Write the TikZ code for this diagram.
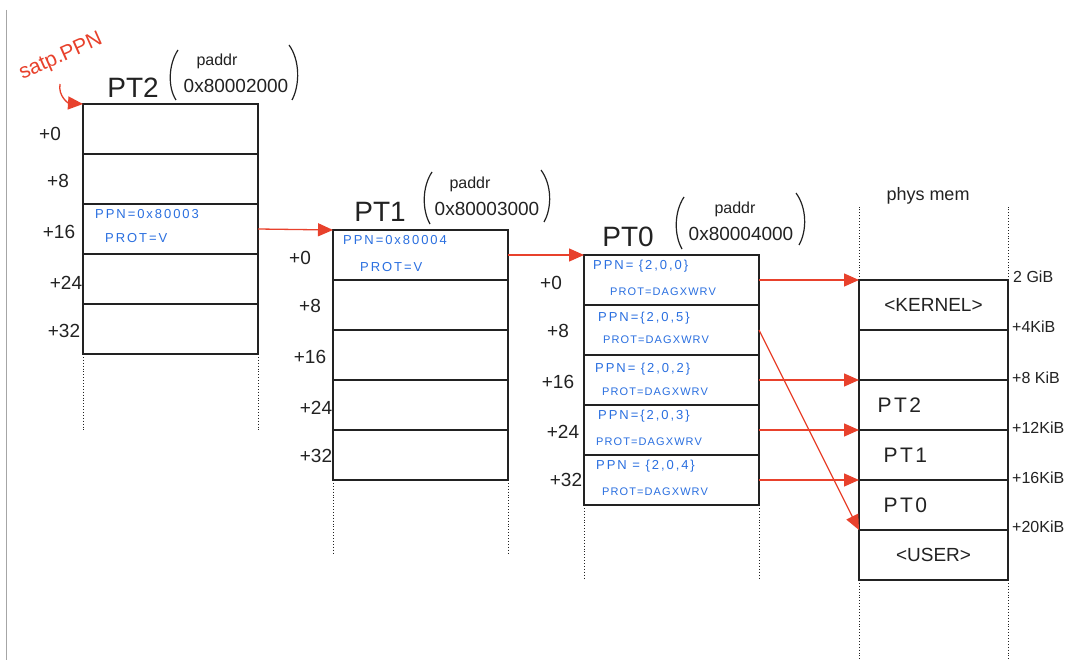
\documentclass[tikz,border=0pt]{standalone}
\usepackage{fontspec}
\setmainfont{Liberation Sans}
\usetikzlibrary{arrows.meta}
\definecolor{ptred}{HTML}{E8412C}
\definecolor{entryblue}{HTML}{2A6FE0}
\definecolor{ink}{HTML}{222222}
\newcommand{\fs}[1]{\fontsize{#1}{#1}\selectfont}

\begin{document}
\begin{tikzpicture}[x=1pt,y=-1pt,
  cell/.style={draw=ink, line width=1.3pt, minimum width=175pt, minimum height=50pt,
    inner sep=0pt, outer sep=0pt},
  memcell/.style={cell, minimum width=149pt, font=\fs{19}, text=ink},
  ptr/.style={draw=ptred, line width=1.3pt, -{Triangle[length=15pt,width=13pt]}},
  tail/.style={draw=ink, line width=0.9pt, dotted},
  off/.style={font=\fs{19}, text=ink},
  title/.style={font=\fs{28}, text=ink},
  paddr/.style={font=\fs{16}, text=ink},
  addr/.style={font=\fs{19}, text=ink},
  paren/.style={draw=ink, line width=1.2pt},
  entry/.style={text=entryblue, font=\fs{13}\addfontfeatures{LetterSpace=15}, anchor=west, inner sep=0pt},
  prot/.style={text=entryblue, font=\fs{11}\addfontfeatures{LetterSpace=10}, anchor=west, inner sep=0pt},
  size/.style={font=\fs{16}, text=ink, anchor=west, inner sep=0pt},
  memlabel/.style={memcell, font=\fs{21}\addfontfeatures{LetterSpace=12}, text width=112pt, align=left},
]
\useasboundingbox (0,0) rectangle (1073,660);
\fill[white] (0,0) rectangle (1073,660);
\draw[gray!70, line width=1pt] (6,10) -- (6,660);

% ---------------- PT2 ----------------
\foreach \i in {0,...,4}
  \node[cell] (pt2r\i) at (170.5,129+50*\i) {};
\draw[tail] (pt2r4.south west) -- ++(0,76);
\draw[tail] (pt2r4.south east) -- ++(0,76);
\node[title] (pt2t) at (133,88) {PT2};
\node[paddr] (pt2p) at (217,61) {paddr};
\node[addr] (pt2a) at (236,86) {0x80002000};
\draw[paren] (178,50) .. controls (168,65) and (168,88) .. (176,100);
\draw[paren] (289,45) .. controls (300,60) and (300,85) .. (292,100);
\node[off] (o20) at (50,134) {+0};
\node[off] (o21) at (58,181) {+8};
\node[off] (o22) at (59,232) {+16};
\node[off] (o23) at (66,283) {+24};
\node[off] (o24) at (64,331) {+32};
\node[entry] (e2a) at (95,214) {PPN=0x80003};
\node[entry] (e2b) at (105,238) {PROT=V};

% ---------------- PT1 ----------------
\foreach \i in {0,...,4}
  \node[cell] (pt1r\i) at (420.5,255+50*\i) {};
\draw[tail] (pt1r4.south west) -- ++(0,75);
\draw[tail] (pt1r4.south east) -- ++(0,75);
\node[title] (pt1t) at (380,212) {PT1};
\node[paddr] (pt1p) at (470,184) {paddr};
\node[addr] (pt1a) at (487,209) {0x80003000};
\draw[paren] (432,172) .. controls (422,187) and (422,210) .. (430,224);
\draw[paren] (541,170) .. controls (552,185) and (552,208) .. (544,222);
\node[off] (o10) at (300,258) {+0};
\node[off] (o11) at (310,306) {+8};
\node[off] (o12) at (310,357) {+16};
\node[off] (o13) at (316,408) {+24};
\node[off] (o14) at (316,456) {+32};
\node[entry] (e1a) at (343,240) {PPN=0x80004};
\node[entry] (e1b) at (360,267) {PROT=V};

% ---------------- PT0 ----------------
\foreach \i in {0,...,4}
  \node[cell] (pt0r\i) at (671.5,280+50*\i) {};
\draw[tail] (pt0r4.south west) -- ++(0,75);
\draw[tail] (pt0r4.south east) -- ++(0,75);
\node[title] (pt0t) at (628,237) {PT0};
\node[paddr] (pt0p) at (735,209) {paddr};
\node[addr] (pt0a) at (741,234) {0x80004000};
\draw[paren] (684,197) .. controls (674,212) and (674,235) .. (682,249);
\draw[paren] (796,193) .. controls (807,208) and (807,231) .. (799,245);
\node[off] (o00) at (551,283) {+0};
\node[off] (o01) at (558,331) {+8};
\node[off] (o02) at (558,382) {+16};
\node[off] (o03) at (563,432) {+24};
\node[off] (o04) at (566,480) {+32};
\node[entry] (e0a) at (593,266) {PPN= \{2,0,0\}};
\node[prot]  (e0b) at (610,292) {PROT=DAGXWRV};
\node[entry] (e1x) at (598,318) {PPN=\{2,0,5\}};
\node[prot]  (e1y) at (603,340) {PROT=DAGXWRV};
\node[entry] (e2x) at (595,369) {PPN= \{2,0,2\}};
\node[prot]  (e2y) at (602,392) {PROT=DAGXWRV};
\node[entry] (e3x) at (598,416) {PPN=\{2,0,3\}};
\node[prot]  (e3y) at (596,442) {PROT=DAGXWRV};
\node[entry] (e4x) at (596,466) {PPN = \{2,0,4\}};
\node[prot]  (e4y) at (602,492) {PROT=DAGXWRV};

% ---------------- physical memory ----------------
\node[font=\fs{18}, text=ink] (pmt) at (928,196) {phys mem};
\node[memcell] (m0) at (933.5,305) {<KERNEL>};
\node[memcell] (m1) at (933.5,355) {};
\node[memlabel] (m2) at (933.5,405) {PT2};
\node[memlabel, text width=100pt] (m3) at (933.5,455) {PT1};
\node[memlabel, text width=100pt] (m4) at (933.5,505) {PT0};
\node[memcell] (m5) at (933.5,555) {<USER>};
\draw[tail] (m0.north west) -- (859,205);
\draw[tail] (m0.north east) -- (1008,205);
\draw[tail] (m5.south west) -- (859,660);
\draw[tail] (m5.south east) -- (1008,660);
\node[size] (s0) at (1013,277) {2 GiB};
\node[size] (s1) at (1012,327) {+4KiB};
\node[size] (s2) at (1012,378) {+8 KiB};
\node[size] (s3) at (1012,428) {+12KiB};
\node[size] (s4) at (1012,478) {+16KiB};
\node[size] (s5) at (1012,527) {+20KiB};

% ---------------- pointers ----------------
\node[text=ptred, font=\fs{21}, rotate=24] (satp) at (61,57) {satp.PPN};
\draw[ptr] (60,84) .. controls (58,96) and (68,103) .. (pt2r0.north west);
\draw[ptr] (pt2r2.east) -- (pt1r0.north west);
\draw[ptr] (pt1r0.east) -- (pt0r0.north west);
\draw[ptr] (pt0r0.east) -- (m0.north west);
\draw[ptr] (pt0r1.east) -- (m5.north west);
\draw[ptr] (pt0r2.east) -- (m2.north west);
\draw[ptr] (pt0r3.east) -- (m3.north west);
\draw[ptr] (pt0r4.east) -- (m4.north west);
\end{tikzpicture}
\end{document}
